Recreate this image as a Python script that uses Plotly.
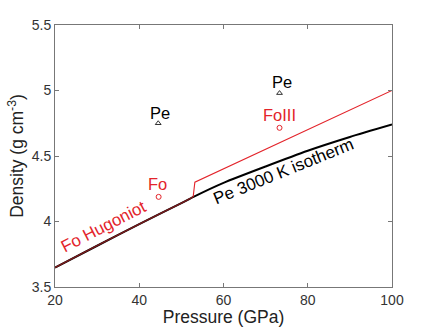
import plotly.graph_objects as go

# Pe 3000 K isotherm
iso_p = [20, 30, 40, 50, 53, 60, 70, 80, 90, 100]
iso_rho = [3.648, 3.815, 3.98, 4.14, 4.19, 4.295, 4.42, 4.54, 4.645, 4.74]

# Fo Hugoniot (follows the isotherm up to the transition, then jumps)
hug_p = [20, 30, 40, 50, 52.8, 53.2, 100]
hug_rho = [3.648, 3.815, 3.98, 4.14, 4.188, 4.30, 5.0]
transition_p = 52.8

# Points
pe_p = [44.5, 73.3]
pe_rho = [4.75, 4.98]
fo_p = [44.6, 73.3]
fo_rho = [4.188, 4.715]

# Labels
pe_labels = ["Pe", "Pe"]
pe_label_pos = [(44.9, 4.827), (73.8, 5.064)]
fo_labels = ["Fo", "FoIII"]
fo_label_pos = [(44.4, 4.285), (73.3, 4.81)]

RED = "#e3242b"
DARKRED = "#7a1a1c"
FONT = "Liberation Sans, Arial, Helvetica, sans-serif"

low_p = [p for p in hug_p if p <= transition_p]
low_rho = [r for p, r in zip(hug_p, hug_rho) if p <= transition_p]
high_p = [p for p in hug_p if p >= transition_p]
high_rho = [r for p, r in zip(hug_p, hug_rho) if p >= transition_p]

fig = go.Figure()
fig.add_trace(go.Scatter(x=iso_p, y=iso_rho, mode="lines",
                         line=dict(color="black", width=2, shape="spline", smoothing=0.6),
                         showlegend=False))
fig.add_trace(go.Scatter(x=low_p, y=low_rho, mode="lines",
                         line=dict(color=DARKRED, width=1.4, shape="spline", smoothing=0.6),
                         showlegend=False))
fig.add_trace(go.Scatter(x=high_p, y=high_rho, mode="lines",
                         line=dict(color=RED, width=1.1), showlegend=False))
fig.add_trace(go.Scatter(x=pe_p, y=pe_rho, mode="markers",
                         marker=dict(symbol="triangle-up-open", size=5, color="black",
                                     line=dict(width=0.8)), showlegend=False))
fig.add_trace(go.Scatter(x=fo_p, y=fo_rho, mode="markers",
                         marker=dict(symbol="circle-open", size=5, color=RED,
                                     line=dict(width=1)), showlegend=False))

annotations = []
for t, (x, y) in zip(pe_labels, pe_label_pos):
    annotations.append(dict(x=x, y=y, text=t, showarrow=False, xref="x", yref="y",
                            font=dict(size=16.5, color="black", family=FONT)))
for t, (x, y) in zip(fo_labels, fo_label_pos):
    annotations.append(dict(x=x, y=y, text=t, showarrow=False, xref="x", yref="y",
                            font=dict(size=16.5, color=RED, family=FONT)))
annotations.append(dict(x=31.6, y=3.964, text="Fo Hugoniot", showarrow=False,
                        xref="x", yref="y", textangle=-27,
                        font=dict(size=17, color=RED, family=FONT)))
annotations.append(dict(x=74.2, y=4.379, text="Pe 3000 K isotherm", showarrow=False,
                        xref="x", yref="y", textangle=-22,
                        font=dict(size=17, color="black", family=FONT)))

axis_common = dict(showline=True, linecolor="#777777", linewidth=1, mirror="allticks",
                   ticks="inside", ticklen=4, tickcolor="#777777", showgrid=False,
                   zeroline=False, automargin=False,
                   tickfont=dict(size=14, color="#333333", family=FONT))

fig.update_layout(
    width=435, height=327,
    margin=dict(l=55, r=43, t=25, b=40),
    paper_bgcolor="white", plot_bgcolor="white",
    xaxis=dict(range=[20, 100], tickvals=[20, 40, 60, 80, 100],
               title=dict(text="Pressure (GPa)", standoff=2,
                          font=dict(size=17.5, color="#222222", family=FONT)),
               **axis_common),
    yaxis=dict(range=[3.5, 5.5], tickvals=[3.5, 4, 4.5, 5, 5.5],
               ticktext=["3.5", "4", "4.5", "5", "5.5"],
               title=dict(text="Density (g cm<sup>-3</sup>)", standoff=3,
                          font=dict(size=17.5, color="#222222", family=FONT)),
               **axis_common),
    annotations=annotations,
)

fig.write_html("out.html")
